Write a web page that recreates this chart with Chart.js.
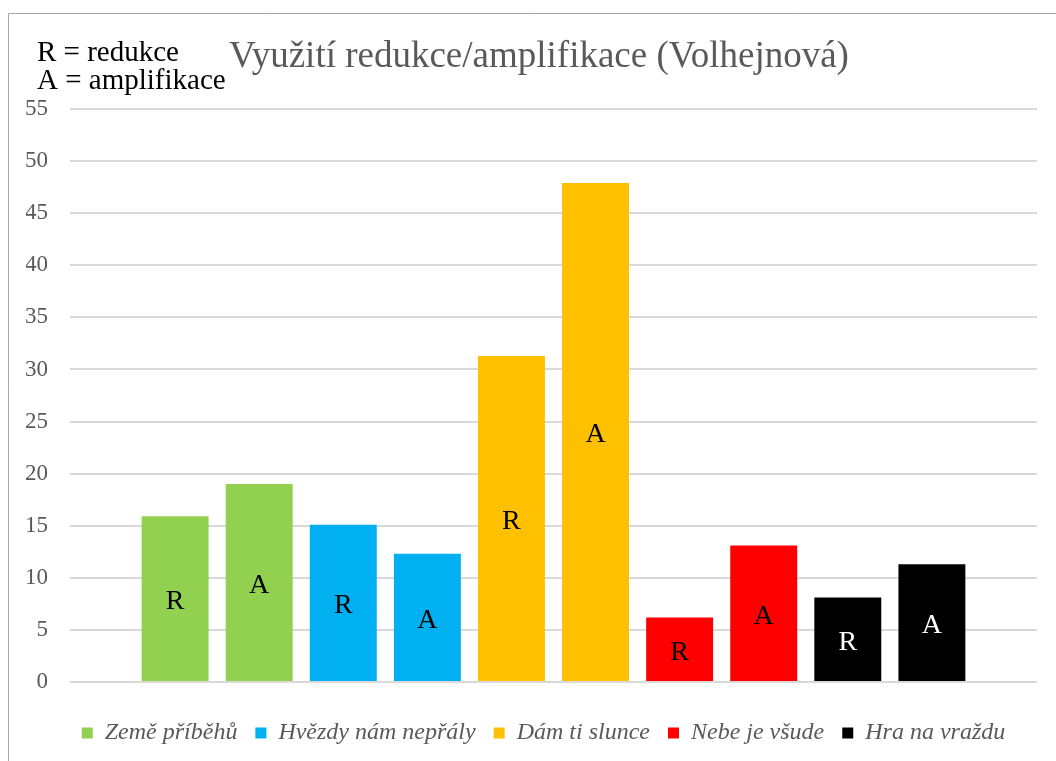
<!DOCTYPE html>
<html>
<head>
<meta charset="utf-8">
<script src="https://cdn.jsdelivr.net/npm/chart.js@4.4.1/dist/chart.umd.min.js"></script>
<style>
    html, body { margin: 0; padding: 0; background: #fff; }
    #wrap { width: 1056px; height: 761px; }
</style>
</head>
<body>
<div id="wrap"><canvas id="myChart" width="1056" height="761"></canvas></div>
<script>
const books = ['Země příběhů', 'Hvězdy nám nepřály', 'Dám ti slunce', 'Nebe je všude', 'Hra na vraždu'];
const bookColors = ['#92d050', '#00b0f0', '#ffc000', '#ff0000', '#000000'];
const reduction = [15.9, 15.1, 31.3, 6.2, 8.1];
const amplification = [19.0, 12.3, 47.9, 13.1, 11.3];
const barLetters = ['R', 'A'];
const yMin = 0, yMax = 55, yStep = 5;
const titleText = 'Využití redukce/amplifikace (Volhejnová)';
const noteLines = ['R = redukce', 'A = amplifikace'];

const serif = "'Liberation Serif', 'Times New Roman', serif";

// each book gets two bars: R at 2i+1, A at 2i+2
const datasets = books.map((name, i) => ({
    label: name,
    data: [
        { x: 2 * i + 1, y: reduction[i] },
        { x: 2 * i + 2, y: amplification[i] }
    ],
    backgroundColor: bookColors[i],
    borderWidth: 0,
    grouped: false,
    categoryPercentage: 1,
    barPercentage: 0.796
}));

const frameLine = {
    id: 'frameLine',
    beforeDraw(chart) {
        const ctx = chart.ctx;
        ctx.save();
        ctx.strokeStyle = '#a6a6a6';
        ctx.lineWidth = 1;
        ctx.beginPath();
        ctx.moveTo(8.5, chart.height);
        ctx.lineTo(8.5, 13.5);
        ctx.lineTo(chart.width, 13.5);
        ctx.stroke();
        ctx.restore();
    }
};

// legend sits a bit right of the centre in the original
const legendShift = {
    id: 'legendShift',
    afterLayout(chart) {
        chart.legend.left += 12;
        chart.legend.right += 12;
    }
};

const header = {
    id: 'header',
    afterDraw(chart) {
        const ctx = chart.ctx;
        ctx.save();
        ctx.textBaseline = 'alphabetic';
        ctx.fillStyle = '#595959';
        ctx.font = `37px ${serif}`;
        ctx.textAlign = 'center';
        ctx.fillText(titleText, 539, 67);
        ctx.fillStyle = '#000000';
        ctx.font = `29px ${serif}`;
        ctx.textAlign = 'left';
        ctx.fillText(noteLines[0], 37, 61);
        ctx.fillText(noteLines[1], 37, 89);
        ctx.restore();
    }
};

const letters = {
    id: 'letters',
    afterDatasetsDraw(chart) {
        const ctx = chart.ctx;
        ctx.save();
        ctx.font = `28px ${serif}`;
        ctx.textAlign = 'center';
        ctx.textBaseline = 'middle';
        chart.data.datasets.forEach((ds, i) => {
            const meta = chart.getDatasetMeta(i);
            meta.data.forEach((bar, j) => {
                const p = bar.getProps(['x', 'y', 'base'], true);
                ctx.fillStyle = ds.backgroundColor === '#000000' ? '#ffffff' : '#000000';
                ctx.fillText(barLetters[j], p.x, (p.y + p.base) / 2 + 3);
            });
        });
        ctx.restore();
    }
};

new Chart(document.getElementById('myChart'), {
    type: 'bar',
    data: { datasets },
    options: {
        responsive: false,
        animation: false,
        layout: { padding: { left: 26, right: 19, top: 109, bottom: 6 } },
        plugins: {
            title: { display: false },
            tooltip: { enabled: false },
            legend: {
                position: 'bottom',
                labels: {
                    boxWidth: 11,
                    boxHeight: 11,
                    padding: 18,
                    color: '#595959',
                    font: { family: serif, size: 24, style: 'italic' }
                }
            }
        },
        scales: {
            x: {
                type: 'linear',
                offset: false,
                min: 1 - 1.25,
                max: 10 + 1.25,
                grid: { display: false },
                border: { display: false },
                ticks: { display: false, stepSize: 1, includeBounds: false },
                afterFit: s => { s.height = 21; }
            },
            y: {
                min: yMin,
                max: yMax,
                ticks: {
                    stepSize: yStep,
                    color: '#595959',
                    padding: 22,
                    font: { family: serif, size: 23 }
                },
                grid: { color: '#d9d9d9', lineWidth: 2, drawTicks: false },
                border: { display: false },
                afterFit: s => { s.width = 44; }
            }
        }
    },
    plugins: [frameLine, legendShift, header, letters]
});
</script>
</body>
</html>
